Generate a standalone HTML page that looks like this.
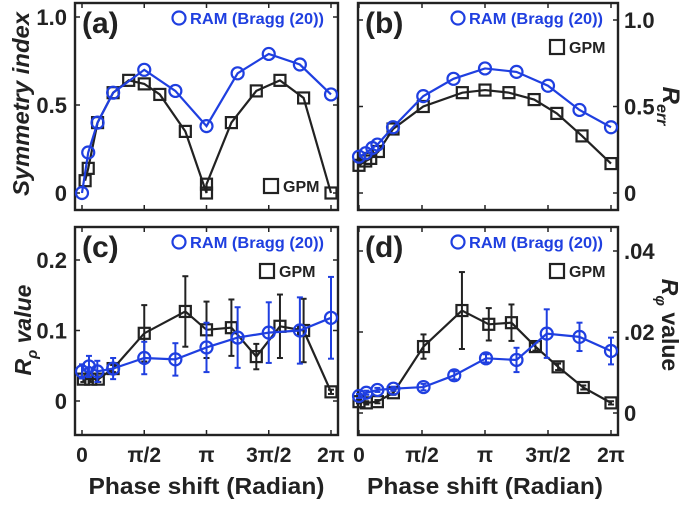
<!DOCTYPE html>
<html><head><meta charset="utf-8"><style>
html,body{margin:0;padding:0;background:#fff;}
svg{display:block;font-family:"Liberation Sans",Arial,sans-serif;font-weight:bold;}
</style></head><body>
<svg id="chart" width="692" height="505" viewBox="0 0 692 505" xmlns="http://www.w3.org/2000/svg"></svg>
<script>
// x values in units of pi
const aRamX=[0,0.05,0.125,0.25,0.5,0.75,1,1.25,1.5,1.75,2];
const aRamY=[0,0.23,0.40,0.57,0.70,0.58,0.38,0.68,0.79,0.73,0.56];
const aGpmX=[0.025,0.05,0.125,0.25,0.375,0.5,0.625,0.83,1,1,1.2,1.4,1.59,1.78,2];
const aGpmY=[0.07,0.14,0.40,0.57,0.64,0.62,0.56,0.35,0,0.05,0.40,0.58,0.64,0.54,0];
const bRamX=[0,0.053,0.106,0.146,0.27,0.51,0.75,1,1.25,1.5,1.75,2];
const bRamY=[0.21,0.23,0.26,0.28,0.38,0.56,0.66,0.72,0.70,0.62,0.48,0.38];
const bGpmX=[0,0.053,0.093,0.154,0.27,0.51,0.82,1,1.19,1.39,1.57,1.77,2];
const bGpmY=[0.16,0.185,0.2,0.24,0.37,0.50,0.58,0.595,0.58,0.54,0.46,0.33,0.17];
const cRamX=[0,0.056,0.123,0.25,0.5,0.75,1,1.25,1.5,1.75,2];
const cRamY=[0.042,0.049,0.042,0.046,0.061,0.059,0.076,0.090,0.097,0.100,0.118];
const cRamE=[0.01,0.015,0.015,0.015,0.023,0.023,0.035,0.043,0.043,0.047,0.058];
const cGpmX=[0.011,0.07,0.131,0.25,0.5,0.83,1,1.2,1.4,1.59,1.78,2];
const cGpmY=[0.031,0.031,0.031,0.046,0.096,0.127,0.101,0.104,0.063,0.106,0.10,0.013];
const cGpmE=[0.004,0.004,0.004,0.005,0.04,0.05,0.04,0.04,0.018,0.045,0.045,0.003];
const dRamX=[0,0.058,0.146,0.273,0.512,0.756,1.008,1.25,1.49,1.75,2];
const dRamY=[0.0042,0.005,0.0057,0.006,0.0064,0.0093,0.0135,0.0131,0.0196,0.0188,0.0153];
const dRamE=[0.0005,0.0005,0.0005,0.0005,0.0008,0.001,0.001,0.003,0.006,0.0035,0.0033];
const dGpmX=[0,0.058,0.146,0.273,0.512,0.817,1.03,1.21,1.40,1.58,1.78,2];
const dGpmY=[0.0028,0.0025,0.0028,0.005,0.0164,0.0253,0.0219,0.0223,0.0164,0.0114,0.0063,0.0025];
const dGpmE=[0.0004,0.0004,0.0004,0.0005,0.003,0.0095,0.004,0.0045,0.001,0.0008,0.0005,0.0004];
const xTickVals=[0,0.5,1,1.5,2];
const xTickLabels=["0","\u03c0/2","\u03c0","3\u03c0/2","2\u03c0"];
const aTicks=[0,0.5,1.0];const aTickLabels=["0","0.5","1.0"];
const cTicks=[0,0.1,0.2];const cTickLabels=["0","0.1","0.2"];
const dTicks=[0,0.02,0.04];const dTickLabels=["0",".02",".04"];

const NS="http://www.w3.org/2000/svg";
const svg=document.getElementById('chart');
function mk(tag,attrs,parent,text){const e=document.createElementNS(NS,tag);for(const k in attrs)e.setAttribute(k,attrs[k]);if(text!==undefined)e.textContent=text;(parent||svg).appendChild(e);return e;}
const BLUE="#1f3fe0",BLK="#222";

function panel(cfg){
  const g=mk('g',{});
  
  
  const xs=v=>cfg.x0+(cfg.x1-cfg.x0)*v/2;
  const ys=v=>cfg.y0+(cfg.yv1-cfg.y0)*v/cfg.vmax;
  xTickVals.forEach((v,i)=>{
    mk('line',{x1:xs(v),x2:xs(v),y1:cfg.fb,y2:cfg.fb-5,stroke:BLK,'stroke-width':1.5},g);
    mk('line',{x1:xs(v),x2:xs(v),y1:cfg.ft,y2:cfg.ft+5,stroke:BLK,'stroke-width':1.5},g);
    if(cfg.xlabels){const t=mk('text',{x:xs(v),y:cfg.fb+27,'text-anchor':'middle','font-size':21,fill:BLK},g,xTickLabels[i]);
      }
  });
  cfg.ticks.forEach((v,i)=>{
    mk('line',{x1:cfg.fl,x2:cfg.fl+5,y1:ys(v),y2:ys(v),stroke:BLK,'stroke-width':1.5},g);
    mk('line',{x1:cfg.fr,x2:cfg.fr-5,y1:ys(v),y2:ys(v),stroke:BLK,'stroke-width':1.5},g);
    const t=cfg.right?mk('text',{x:cfg.fr+6,y:ys(v)+8,'text-anchor':'start','font-size':22,fill:BLK},g,cfg.tl[i])
      :mk('text',{x:cfg.fl-8,y:ys(v)+8,'text-anchor':'end','font-size':22,fill:BLK},g,cfg.tl[i]);
    
  });
  const fr=mk('rect',{x:cfg.fl,y:cfg.ft,width:cfg.fr-cfg.fl,height:cfg.fb-cfg.ft,fill:'none',stroke:BLK,'stroke-width':2.4},g);
  
  function series(X,Y,E,col,shape,nm){
    const sg=mk('g',{},g);
    
    const pl=mk('polyline',{points:X.map((x,i)=>xs(x)+','+ys(Y[i])).join(' '),fill:'none',stroke:col,'stroke-width':2.2},sg);
    
    X.forEach((x,i)=>{
      const px=xs(x),py=ys(Y[i]);
      if(E){const e=mk('g',{},sg);
        
        const a=ys(Y[i]+E[i]),b=ys(Y[i]-E[i]);
        mk('line',{x1:px,x2:px,y1:a,y2:b,stroke:col,'stroke-width':2},e);
        mk('line',{x1:px-3,x2:px+3,y1:a,y2:a,stroke:col,'stroke-width':2},e);
        mk('line',{x1:px-3,x2:px+3,y1:b,y2:b,stroke:col,'stroke-width':2},e);}
      const m=shape==='c'?mk('circle',{cx:px,cy:py,r:6,fill:'none',stroke:col,'stroke-width':2.2},sg)
        :mk('rect',{x:px-5.5,y:py-5.5,width:11,height:11,fill:'none',stroke:col,'stroke-width':2.2},sg);
      
    });
  }
  series(cfg.gx,cfg.gy,cfg.ge,BLK,'s','gpm-series');
  series(cfg.rx,cfg.ry,cfg.re,BLUE,'c','ram-series');
  const pl=mk('text',{x:cfg.fl+7,y:cfg.ft+30,'font-size':30,fill:BLK},g,cfg.label);
  
  const lg=mk('g',{},g);
  mk('circle',{cx:cfg.lx,cy:cfg.ly,r:6.5,fill:'none',stroke:BLUE,'stroke-width':2.2},lg);
  const lt=mk('text',{x:cfg.lx+11,y:cfg.ly+6,'font-size':16,fill:BLUE,textLength:134,lengthAdjust:'spacingAndGlyphs'},lg,'RAM (Bragg (20))');
  
  mk('rect',{x:cfg.gxl-7,y:cfg.gyl-7,width:14,height:14,fill:'none',stroke:BLK,'stroke-width':2.2},lg);
  const gt=mk('text',{x:cfg.gxl+12,y:cfg.gyl+6,'font-size':16,fill:BLK},lg,'GPM');
  
  if(cfg.xlabels){const xt=mk('text',{x:(cfg.x0+cfg.x1)/2,y:cfg.fb+59,'text-anchor':'middle','font-size':23,fill:BLK,textLength:236,lengthAdjust:'spacingAndGlyphs'},g,'Phase shift (Radian)');
    }
}
panel({name:'panel-a',label:'(a)',fl:75,fr:338,ft:3,fb:210,x0:82,x1:331,y0:193,yv1:17,vmax:1,ticks:aTicks,tl:aTickLabels,
  rx:aRamX,ry:aRamY,gx:aGpmX,gy:aGpmY,lx:179,ly:18,gxl:271,gyl:186});
panel({name:'panel-b',label:'(b)',right:true,fl:358,fr:618,ft:3,fb:210,x0:359,x1:611,y0:193,yv1:20,vmax:1,ticks:aTicks,tl:aTickLabels,
  rx:bRamX,ry:bRamY,gx:bGpmX,gy:bGpmY,lx:458,ly:18,gxl:557,gyl:47});
panel({name:'panel-c',label:'(c)',xlabels:true,fl:75,fr:338,ft:227,fb:435,x0:82,x1:331,y0:401,yv1:260,vmax:0.2,ticks:cTicks,tl:cTickLabels,
  rx:cRamX,ry:cRamY,re:cRamE,gx:cGpmX,gy:cGpmY,ge:cGpmE,lx:179,ly:242,gxl:267,gyl:271});
panel({name:'panel-d',label:'(d)',right:true,xlabels:true,fl:358,fr:618,ft:227,fb:435,x0:359,x1:611,y0:413,yv1:251,vmax:0.04,ticks:dTicks,tl:dTickLabels,
  rx:dRamX,ry:dRamY,re:dRamE,gx:dGpmX,gy:dGpmY,ge:dGpmE,lx:458,ly:242,gxl:557,gyl:271});
</script>
<svg style="position:absolute;left:0;top:0" width="692" height="505" font-family="Liberation Sans, Arial, sans-serif" font-weight="bold">
<text transform="translate(29,104) rotate(-90)" text-anchor="middle" font-size="23" font-style="italic" fill="#222" textLength="184" lengthAdjust="spacingAndGlyphs">Symmetry index</text>
<text transform="translate(663,106) rotate(90)" text-anchor="middle" font-size="24" font-style="italic" fill="#222">R<tspan font-size="16" dy="6">err</tspan></text>
<text transform="translate(31,330) rotate(-90)" text-anchor="middle" font-size="23" font-style="italic" fill="#222">R<tspan font-size="15" dy="6">ρ</tspan><tspan dy="-6"> value</tspan></text>
<text transform="translate(662,325) rotate(90)" text-anchor="middle" font-size="23" font-style="italic" fill="#222">R<tspan font-size="15" dy="6">φ</tspan><tspan dy="-6" font-style="normal"> value</tspan></text>
</svg>
</body></html>
